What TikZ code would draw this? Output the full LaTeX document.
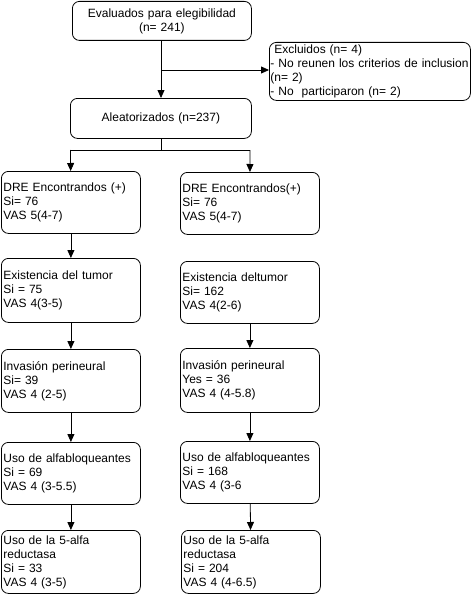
\documentclass[tikz,border=0pt]{standalone}
\usepackage{fontspec}
\setmainfont{Liberation Sans}
\usetikzlibrary{arrows.meta}
\begin{document}
\begin{tikzpicture}[x=1pt,y=-1pt,
  caja/.style={draw,rounded corners=7pt,line width=0.8pt,inner xsep=2pt,inner ysep=0pt,
    align=left,anchor=north west,font=\fontsize{12}{14}\selectfont},
  izq/.style={caja,text width=135pt},
  flecha/.style={line width=0.8pt,-{Triangle[length=8pt,width=7pt]}}]
\useasboundingbox (0,0) rectangle (471,594);
% parte superior
\node[caja,align=center,text width=175pt,minimum height=39pt] (eval) at (72,1) {Evaluados para elegibilidad\\(n= 241)};
\node[caja,inner xsep=1pt,text width=199pt,minimum height=58pt] (excl) at (269,42) {\ Excluidos (n= 4)\\\mbox{- No reunen los criterios de inclusion}\\(n= 2)\\- No\ \ participaron (n= 2)};
\node[caja,align=center,text width=177pt,minimum height=40pt] (alea) at (70,98) {Aleatorizados (n=237)};
\coordinate (rama) at (161,70);
\coordinate (div) at (161,150);
\coordinate (divi) at (70.5,150);
\coordinate (divd) at (250,150);
% columna izquierda
\node[izq,minimum height=62pt] (dre1) at (1,171) {DRE Encontrandos (+)\\Si= 76\\VAS 5(4-7)};
\node[izq,minimum height=64pt] (ex1) at (1,258) {Existencia del tumor\\Si = 75\\VAS 4(3-5)};
\node[izq,minimum height=63pt] (inv1) at (1,349) {Invasión perineural\\Si= 39\\VAS 4 (2-5)};
\node[izq,minimum height=62pt] (alf1) at (1,442) {Uso de alfabloqueantes\\Si = 69\\VAS 4 (3-5.5)};
\node[izq,minimum height=63pt] (red1) at (1,530) {Uso de la 5-alfa\\reductasa\\Si = 33\\VAS 4 (3-5)};
% columna derecha
\node[izq,minimum height=62pt] (dre2) at (180,172) {DRE Encontrandos(+)\\Si= 76\\VAS 5(4-7)};
\node[izq,minimum height=62pt] (ex2) at (180,261) {Existencia deltumor\\Si= 162\\VAS 4(2-6)};
\node[izq,minimum height=64pt] (inv2) at (180,348) {Invasión perineural\\Yes = 36\\VAS 4 (4-5.8)};
\node[izq,minimum height=62pt] (alf2) at (180,441) {Uso de alfabloqueantes\\Si = 168\\VAS 4 (3-6};
\node[izq,minimum height=63pt] (red2) at (181,530) {Uso de la 5-alfa\\reductasa\\Si = 204\\VAS 4 (4-6.5)};
% conectores
\draw[flecha] (rama |- eval.south) -- (rama |- alea.north);
\draw[flecha] (rama) -- (excl.west |- rama);
\draw[line width=0.8pt] (div |- alea.south) -- (div);
\draw[line width=0.8pt] (divi) -- (divd);
\draw[flecha] (divi) -- (dre1);
\draw[flecha] (divd) -- (dre2);
\draw[flecha] (dre1) -- (ex1);
\draw[flecha] (ex1) -- (inv1);
\draw[flecha] (inv1) -- (alf1);
\draw[flecha] (alf1) -- (red1);
\draw[flecha] (ex2) -- (inv2);
\draw[flecha] (inv2) -- (alf2);
\draw[flecha] (alf2) -- (red2);
\end{tikzpicture}
\end{document}
